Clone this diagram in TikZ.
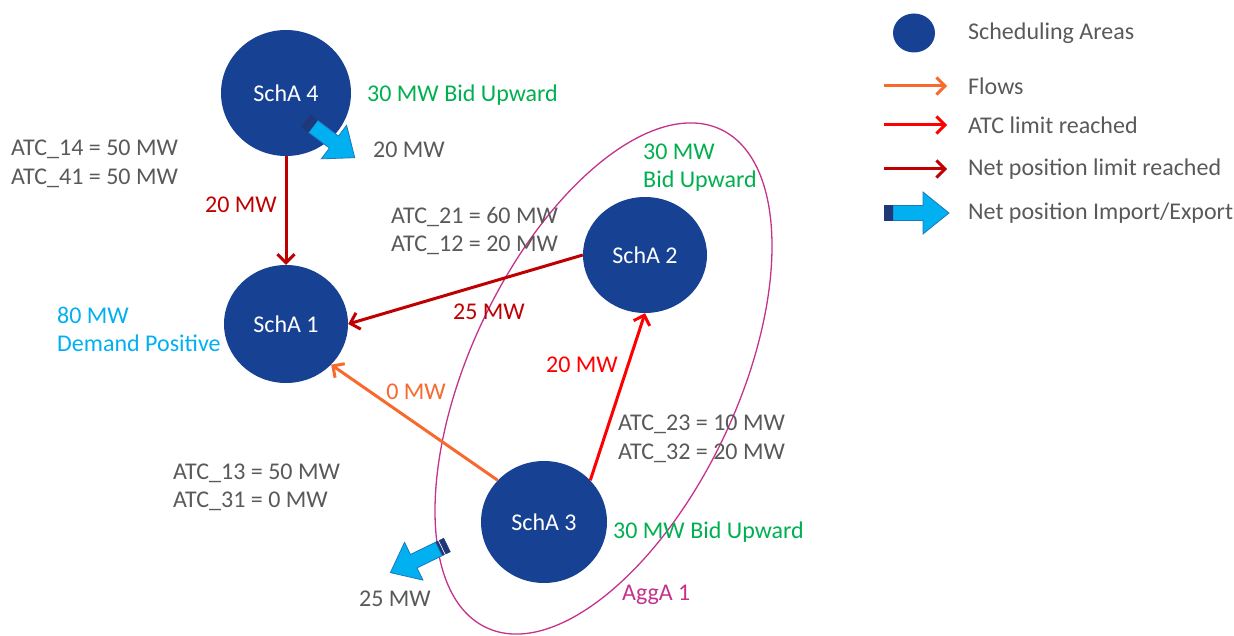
\documentclass[tikz,border=0pt]{standalone}
\usepackage{fontspec}
\setmainfont{Carlito}
\usetikzlibrary{arrows.meta,shapes.geometric}
\definecolor{sab}{RGB}{23,66,148}
\definecolor{txg}{RGB}{89,89,89}
\definecolor{grn}{RGB}{0,176,80}
\definecolor{lbl}{RGB}{0,176,240}
\definecolor{org}{RGB}{247,105,45}
\definecolor{redA}{RGB}{255,0,0}
\definecolor{dred}{RGB}{192,0,0}
\definecolor{mag}{RGB}{196,50,140}
\definecolor{npb}{RGB}{0,176,240}
\definecolor{npe}{RGB}{30,120,190}
\definecolor{nav}{RGB}{31,56,120}
\begin{document}
\begin{tikzpicture}[x=1pt,y=1pt,
  area/.style={ellipse, fill=sab, draw=none, inner sep=0, text=white, font=\fontsize{24}{28.5}\selectfont},
  lab/.style={inner sep=0, font=\fontsize{24}{28.5}\selectfont, text=txg, align=left},
  conn/.style={line width=3pt, -{Straight Barb[length=8.5pt,width=17pt]}},
  pics/npimg/.style={code={
    \filldraw[fill=npb, draw=npe, line width=0.8pt, line join=miter]
      (9,-7.5) -- ({#1-26},-7.5) -- ({#1-26},-21) -- (#1,0) -- ({#1-26},21) -- ({#1-26},7.5) -- (9,7.5) -- cycle;
    \filldraw[fill=nav, draw=nav, line width=0.5pt] (0,-7.5) rectangle (5,7.5);
    \filldraw[fill=nav, draw=nav, line width=0.5pt] (6.5,-7.5) rectangle (8.5,7.5);
  }}
]
\useasboundingbox (0,0) rectangle (1234,635);

% aggregation area
\draw[mag, line width=1.3pt, rotate around={64.8:(603.5,256.5)}] (603.5,256.5) ellipse [x radius=275.3, y radius=133.8];

% scheduling areas
\node[area, minimum width=130pt, minimum height=126pt] (s4) at (286,542) {SchA 4};
\node[area, minimum width=124pt, minimum height=118pt] (s1) at (286,311) {SchA 1};
\node[area, minimum width=124pt, minimum height=116pt] (s2) at (645,380) {SchA 2};
\node[area, minimum width=126pt, minimum height=122pt] (s3) at (544,113) {SchA 3};

% connectors
\draw[conn, dred] (s4.south) -- (s1.north);
\draw[conn, dred] (s2.west) -- (s1.east);
\draw[conn, org] (s3.138) -- (s1.-42);
\draw[conn, redA] (s3.42) -- (s2.south);

% labels
\node[lab, anchor=west, text=grn] (t4bid) at (367,540) {30 MW Bid Upward};
\node[lab, anchor=west] (t4mw) at (373,485) {20 MW};
\node[lab, anchor=west] (atc14) at (11,471) {ATC\_14 = 50 MW\\ATC\_41 = 50 MW};
\node[lab, anchor=east, text=dred] (r20) at (277,430) {20 MW};
\node[lab, anchor=west] (atc21) at (391,404) {ATC\_21 = 60 MW\\ATC\_12 = 20 MW};
\node[lab, anchor=west, text=grn] (g30) at (643,467.5) {30 MW\\Bid Upward};
\node[lab, anchor=west, text=lbl] (d80) at (57,305.5) {80 MW\\Demand Positive};
\node[lab, text=dred] (m25) at (489,323) {25 MW};
\node[lab, text=org] (o0) at (416,243) {0 MW};
\node[lab, text=redA] (r20b) at (582,270) {20 MW};
\node[lab, anchor=west] (atc23) at (618,196) {ATC\_23 = 10 MW\\ATC\_32 = 20 MW};
\node[lab, anchor=west] (atc13) at (173,147.5) {ATC\_13 = 50 MW\\ATC\_31 = 0 MW};
\node[lab, anchor=west, text=grn] (g30b) at (613,103) {30 MW Bid Upward};
\node[lab, anchor=west, text=mag] (agg) at (622,40) {AggA 1};
\node[lab] (g25) at (395,36) {25 MW};

% net position arrows
\pic[rotate=-37] at (306,514) {npimg=61};
\pic[rotate=206] at (447,90) {npimg=63};

% legend
\node[ellipse, fill=sab, inner sep=0, minimum width=42pt, minimum height=39pt] (lc) at (914,602) {};
\node[lab, anchor=west] (l1) at (968,602) {Scheduling Areas};
\coordinate (fa) at (884,549);
\coordinate (fb) at (947,549);
\draw[conn, org] (fa) -- (fb);
\node[lab, anchor=west] (l2) at (968,549) {Flows};
\coordinate (aa) at (884,510);
\coordinate (ab) at (947,510);
\draw[conn, redA] (aa) -- (ab);
\node[lab, anchor=west] (l3) at (968,510) {ATC limit reached};
\coordinate (na) at (884,466);
\coordinate (nb) at (947,466);
\draw[conn, dred] (na) -- (nb);
\node[lab, anchor=west] (l4) at (968,466) {Net position limit reached};
\pic at (884,422) {npimg=65};
\node[lab, anchor=west] (l5) at (968,422) {Net position Import/Export};
\end{tikzpicture}
\end{document}
